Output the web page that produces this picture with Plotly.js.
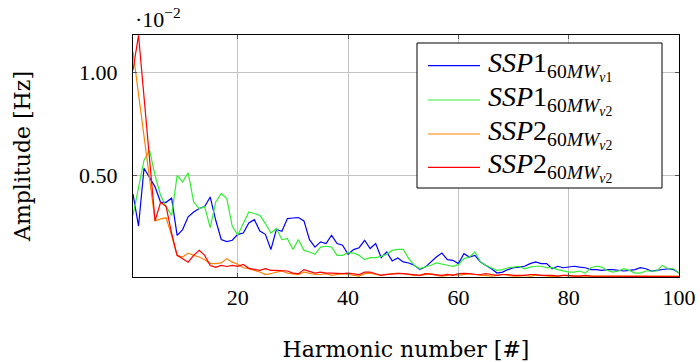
<!DOCTYPE html>
<html>
<head>
<meta charset="utf-8">
<script src="https://cdn.plot.ly/plotly-3.0.1.min.js"></script>
<style>html,body{margin:0;padding:0;background:#fff;}#chart{width:700px;height:362px;}</style>
</head>
<body>
<div id="chart"></div>
<script>
// Harmonic numbers
const harmonics = Array.from({length: 100}, (_, i) => i + 1);
// Amplitudes in units of 1e-2 Hz (axis shows ·10^-2)
const ssp1_v1 = [0.41,0.255,0.535,0.49,0.445,0.37,0.37,0.39,0.21,0.238,0.30,0.323,0.34,0.35,0.396,0.283,0.19,0.18,0.186,0.215,
0.221,0.27,0.286,0.231,0.215,0.141,0.238,0.23,0.291,0.294,0.296,0.28,0.189,0.153,0.178,0.17,0.21,0.17,0.162,0.118,
0.141,0.15,0.186,0.146,0.17,0.102,0.129,0.086,0.10,0.081,0.076,0.065,0.045,0.056,0.081,0.105,0.124,0.092,0.089,0.073,
0.121,0.105,0.113,0.081,0.064,0.048,0.027,0.032,0.044,0.053,0.056,0.06,0.073,0.081,0.073,0.073,0.048,0.06,0.053,0.058,
0.06,0.056,0.053,0.044,0.044,0.04,0.044,0.044,0.04,0.037,0.04,0.044,0.053,0.048,0.037,0.04,0.044,0.048,0.044,0.027];
const ssp1_v2 = [0.307,0.445,0.574,0.623,0.50,0.404,0.348,0.307,0.50,0.469,0.513,0.372,0.34,0.348,0.247,0.372,0.413,0.388,0.254,0.212,
0.267,0.323,0.316,0.307,0.267,0.221,0.243,0.189,0.194,0.141,0.189,0.137,0.129,0.118,0.153,0.157,0.153,0.113,0.113,0.126,
0.124,0.113,0.092,0.102,0.102,0.108,0.118,0.137,0.142,0.142,0.097,0.065,0.049,0.056,0.065,0.076,0.069,0.065,0.06,0.068,
0.097,0.105,0.129,0.081,0.064,0.053,0.04,0.044,0.053,0.056,0.06,0.048,0.056,0.06,0.06,0.053,0.053,0.044,0.037,0.032,
0.032,0.037,0.027,0.053,0.06,0.056,0.04,0.032,0.037,0.048,0.04,0.027,0.027,0.037,0.037,0.037,0.064,0.048,0.048,0.027];
const ssp2_v2a = [1.10,0.90,0.69,0.49,0.28,0.29,0.295,0.21,0.112,0.105,0.124,0.113,0.105,0.092,0.073,0.073,0.076,0.097,0.08,0.07,
0.053,0.048,0.04,0.032,0.02,0.024,0.032,0.037,0.027,0.024,0.02,0.032,0.027,0.02,0.02,0.024,0.016,0.02,0.024,0.02,
0.016,0.012,0.024,0.027,0.02,0.016,0.02,0.024,0.027,0.024,0.02,0.016,0.016,0.02,0.024,0.016,0.012,0.016,0.02,0.016,
0.02,0.024,0.02,0.016,0.016,0.012,0.016,0.02,0.016,0.012,0.012,0.016,0.012,0.016,0.016,0.012,0.01,0.012,0.016,0.012,
0.012,0.01,0.012,0.012,0.01,0.012,0.01,0.01,0.012,0.01,0.01,0.012,0.01,0.01,0.012,0.01,0.012,0.01,0.01,0.012];
const ssp2_v2b = [1.01,1.18,0.88,0.58,0.28,0.37,0.35,0.22,0.113,0.097,0.08,0.113,0.137,0.113,0.064,0.055,0.064,0.059,0.064,0.06,
0.069,0.05,0.046,0.04,0.048,0.04,0.04,0.037,0.037,0.027,0.024,0.044,0.037,0.027,0.032,0.027,0.027,0.024,0.024,0.027,
0.024,0.02,0.032,0.032,0.024,0.016,0.021,0.024,0.024,0.024,0.021,0.016,0.016,0.024,0.021,0.016,0.016,0.021,0.016,0.024,
0.026,0.024,0.02,0.02,0.024,0.02,0.016,0.02,0.02,0.016,0.016,0.016,0.02,0.02,0.016,0.016,0.016,0.012,0.016,0.016,
0.012,0.012,0.016,0.012,0.012,0.012,0.01,0.012,0.012,0.01,0.01,0.012,0.01,0.01,0.01,0.012,0.01,0.012,0.01,0.01];
const seriesBase = ['1', '1', '2', '2'];
const seriesVersion = ['1', '2', '2', '2'];
const seriesColors = ['#0000ff', '#33ee33', '#ff8000', '#ff0000'];
const xTicks = [20, 40, 60, 80, 100];
const yTicks = [0.5, 1.0];

const seriesNames = seriesBase.map((b, i) =>
  '<i>SSP</i>' + b + '<sub>60<i>MW</i><sub><i>v</i>' + seriesVersion[i] + '</sub></sub>');

const allY = [ssp1_v1, ssp1_v2, ssp2_v2a, ssp2_v2b];
const traces = allY.map((ys, i) => ({
  x: harmonics, y: ys, type: 'scatter', mode: 'lines', name: seriesNames[i],
  line: {color: seriesColors[i], width: 1.2}, showlegend: false
}));

const serif = 'Liberation Serif, serif';
const titleFont = 'DejaVu Serif, serif';

// Legend drawn in paper coordinates (box, sample lines, labels)
const px2x = p => (p - 133) / 546;
const px2y = p => 1 - (p - 35) / 242;
const legendRows = [65.7, 100, 134, 167.3];
const shapes = [{
  type: 'rect', xref: 'paper', yref: 'paper',
  x0: px2x(417), x1: px2x(662), y0: px2y(188), y1: px2y(43),
  line: {color: '#000', width: 1}, fillcolor: '#fff', layer: 'above'
}];
const annotations = [{
  xref: 'paper', yref: 'paper', x: 0, y: 1.07, xanchor: 'left', yanchor: 'middle',
  text: '·10<sup>−2</sup>', showarrow: false, font: {family: serif, size: 22, color: '#000'}
}];
legendRows.forEach((ry, i) => {
  shapes.push({type: 'line', xref: 'paper', yref: 'paper',
    x0: px2x(428), x1: px2x(480), y0: px2y(ry), y1: px2y(ry),
    line: {color: seriesColors[i], width: 1.2}, layer: 'above'});
  annotations.push({xref: 'paper', yref: 'paper', x: px2x(486), y: px2y(ry),
    xanchor: 'left', yanchor: 'middle', yshift: 0, showarrow: false,
    text: seriesNames[i], font: {family: serif, size: 28, color: '#000'}});
});

const layout = {
  width: 700, height: 362,
  margin: {l: 133, r: 21, t: 35, b: 85, pad: 0},
  paper_bgcolor: '#fff', plot_bgcolor: '#fff',
  font: {family: serif, size: 22, color: '#000'},
  showlegend: false,
  xaxis: {
    range: [1, 100], tickvals: xTicks, ticktext: xTicks.map(String),
    showgrid: true, gridcolor: '#c4c4c4', gridwidth: 1,
    showline: true, linecolor: '#000', linewidth: 1.2, mirror: 'ticks',
    ticks: 'inside', ticklen: 4, tickcolor: '#555', zeroline: false,
    ticklabelstandoff: 0,
    tickfont: {family: serif, size: 22},
    title: {text: 'Harmonic number [#]', font: {family: titleFont, size: 22}, standoff: 36}
  },
  yaxis: {
    range: [0.008, 1.181], tickvals: yTicks, tickformat: '.2f',
    showgrid: true, gridcolor: '#c4c4c4', gridwidth: 1,
    showline: true, linecolor: '#000', linewidth: 1.2, mirror: 'ticks',
    ticks: 'inside', ticklen: 4, tickcolor: '#555', zeroline: false,
    ticklabelstandoff: 10,
    tickfont: {family: serif, size: 22},
    title: {text: 'Amplitude [Hz]', font: {family: titleFont, size: 22}, standoff: 42}
  },
  shapes: shapes,
  annotations: annotations
};
Plotly.newPlot('chart', traces, layout, {staticPlot: true, displayModeBar: false});
</script>
</body>
</html>
